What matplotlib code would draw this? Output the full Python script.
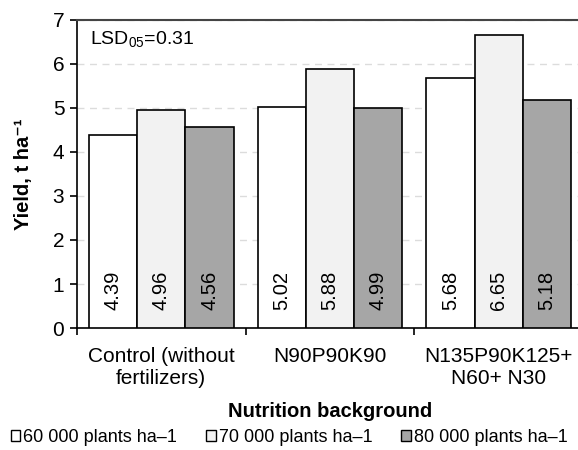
import numpy as np
from matplotlib import pyplot as plt
from matplotlib.patches import Patch

plt.rcParams["font.family"] = ["Liberation Sans", "DejaVu Sans"]
plt.rcParams["mathtext.fontset"] = "custom"
plt.rcParams["mathtext.rm"] = "Liberation Sans"
plt.rcParams["mathtext.it"] = "Liberation Sans:italic"
plt.rcParams["mathtext.bf"] = "Liberation Sans:bold"

categories = ["Control (without\nfertilizers)", "N90P90K90", "N135P90K125+\nN60+ N30"]
series = ["60 000 plants ha\u20131", "70 000 plants ha\u20131", "80 000 plants ha\u20131"]
yield_60 = [4.39, 5.02, 5.68]
yield_70 = [4.96, 5.88, 6.65]
yield_80 = [4.56, 4.99, 5.18]
colors = ["#ffffff", "#f2f2f2", "#a6a6a6"]

fig = plt.figure(figsize=(5.78, 4.5), dpi=100)
ax = fig.add_axes([0.133, 0.271, 0.876, 0.685])

x = np.arange(len(categories))
w = 0.286
for i, vals in enumerate([yield_60, yield_70, yield_80]):
    pos = x + (i - 1) * w
    ax.bar(pos, vals, w, color=colors[i], edgecolor="black", linewidth=1.2, zorder=3)
    for p, v in zip(pos, vals):
        ax.text(p, 0.4, f"{v:.2f}", rotation=90, ha="center", va="bottom",
                fontsize=14.5, zorder=4)

ax.set_xlim(-0.5, 2.5)
ax.set_ylim(0, 7)
ax.set_yticks(range(8))
ax.yaxis.grid(True, color="#dcdcdc", linestyle=(0, (5, 4)), linewidth=1, zorder=0)
ax.set_xticks(x)
ax.set_xticklabels(categories, fontsize=15, linespacing=1.15)
ax.set_xticks([-0.5, 0.5, 1.5, 2.5], minor=True)
ax.tick_params(axis="x", which="major", length=0, pad=14)
ax.tick_params(axis="x", which="minor", length=5, width=1.2)
ax.tick_params(axis="y", length=5, width=1.2, labelsize=15, pad=4)

ax.spines["right"].set_visible(False)
ax.spines["top"].set_color("#444444")
ax.spines["top"].set_linewidth(1.5)
ax.spines["left"].set_linewidth(1.2)
ax.spines["bottom"].set_linewidth(1.2)

ax.set_ylabel("Yield, t ha\u207b\u00b9", fontsize=14.5, fontweight="bold", labelpad=14)
ax.set_xlabel("Nutrition background", fontsize=14.5, fontweight="bold", labelpad=10)

ax.text(0.025, 0.97, "LSD$_{05}$=0.31", transform=ax.transAxes, fontsize=14,
        ha="left", va="top")

handles = [Patch(facecolor=c, edgecolor="black", linewidth=1) for c in colors]
fig.legend(handles, series, loc="center", bbox_to_anchor=(0.5, 0.028), ncol=3,
           frameon=False, fontsize=13, handlelength=0.55, handleheight=0.55,
           handletextpad=0.15, columnspacing=1.6)

plt.savefig("out.png", dpi=100)
